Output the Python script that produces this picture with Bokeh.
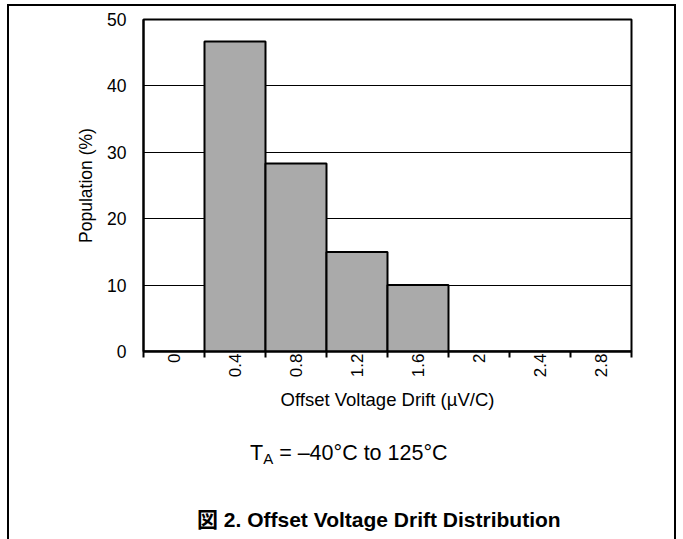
import math
from bokeh.plotting import figure
from bokeh.models import Range1d, FixedTicker, Div
from bokeh.layouts import column
from bokeh.embed import file_html
from bokeh.resources import INLINE

# ---- data ----
categories = ["0", "0.4", "0.8", "1.2", "1.6", "2", "2.4", "2.8"]
population = [0, 46.7, 28.3, 15, 10, 0, 0, 0]
y_ticks = [0, 10, 20, 30, 40, 50]
x_title = "Offset Voltage Drift (\u00b5V/C)"
y_title = "Population (%)"
condition_main = "T"
condition_sub = "A"
condition_rest = " = \u201340\u00b0C to 125\u00b0C"
caption = "\u56f3 2. Offset Voltage Drift Distribution"

FONT = "Liberation Sans, Arial, Noto Sans CJK JP"

n = len(categories)
centers = [i + 0.5 for i in range(n)]
bounds = [float(i) for i in range(n + 1)]

p = figure(
    width=665, height=425,
    x_range=Range1d(0, n), y_range=Range1d(0, 50),
    output_backend="svg", toolbar_location=None,
    min_border_left=134, min_border_right=43,
    min_border_top=13, min_border_bottom=80,
)

p.background_fill_color = "white"
p.border_fill_color = "white"
p.outline_line_color = "black"
p.outline_line_width = 2

# grid
p.xgrid.visible = False
p.ygrid.ticker = FixedTicker(ticks=y_ticks)
p.ygrid.grid_line_color = "black"
p.ygrid.grid_line_width = 1

# bars
p.vbar(x=centers, top=population, width=1.0, bottom=0,
       fill_color="#aaaaaa", line_color="black", line_width=2)

# x axis
xa = p.xaxis[0]
xa.ticker = FixedTicker(ticks=centers, minor_ticks=bounds)
xa.major_label_overrides = {c: lab for c, lab in zip(centers, categories)}
xa.major_label_orientation = math.pi / 2
xa.major_tick_out = 0
xa.major_tick_in = 0
xa.minor_tick_out = 6
xa.minor_tick_in = 0
xa.minor_tick_line_color = "black"
xa.minor_tick_line_width = 2
xa.axis_line_color = "black"
xa.axis_line_width = 2
xa.major_label_standoff = -4
xa.major_label_text_font = FONT
xa.major_label_text_font_size = "17px"
xa.major_label_text_color = "black"
xa.axis_label = x_title
xa.axis_label_text_font = FONT
xa.axis_label_text_font_size = "18.5px"
xa.axis_label_text_font_style = "normal"
xa.axis_label_text_color = "black"
xa.axis_label_standoff = 9

# y axis
ya = p.yaxis[0]
ya.ticker = FixedTicker(ticks=y_ticks)
ya.major_tick_out = 0
ya.major_tick_in = 0
ya.minor_tick_out = 0
ya.minor_tick_in = 0
ya.axis_line_color = "black"
ya.axis_line_width = 2
ya.major_label_standoff = 17
ya.major_label_text_font = FONT
ya.major_label_text_font_size = "17.5px"
ya.major_label_text_color = "black"
ya.axis_label = y_title
ya.axis_label_text_font = FONT
ya.axis_label_text_font_size = "17.5px"
ya.axis_label_text_font_style = "normal"
ya.axis_label_text_color = "black"
ya.axis_label_standoff = 8

notes_html = (
    f'<div style="position:relative;width:665px;height:108px;overflow:hidden;'
    f'font-family:{FONT};color:black;">'
    f'<div style="position:absolute;left:241px;top:12px;font-size:21.5px;'
    f'line-height:21px;white-space:nowrap;">{condition_main}'
    f'<span style="font-size:15px;position:relative;top:4px;">{condition_sub}</span>'
    f'{condition_rest}</div>'
    f'<div style="position:absolute;left:188px;top:78px;font-size:21px;'
    f'line-height:21px;font-weight:bold;white-space:nowrap;">{caption}</div>'
    f'</div>'
)
notes = Div(text=notes_html, width=665, height=108, margin=0,
            styles={"margin": "0", "padding": "0"})

layout = column(p, notes, spacing=0, width=665, height=533,
                styles={"border-top": "2px solid black",
                        "border-left": "2px solid black",
                        "border-right": "2px solid black",
                        "margin-left": "7px", "margin-top": "4px",
                        "background-color": "white",
                        "box-sizing": "content-box"})

open("out.html", "w").write(file_html(layout, INLINE))
